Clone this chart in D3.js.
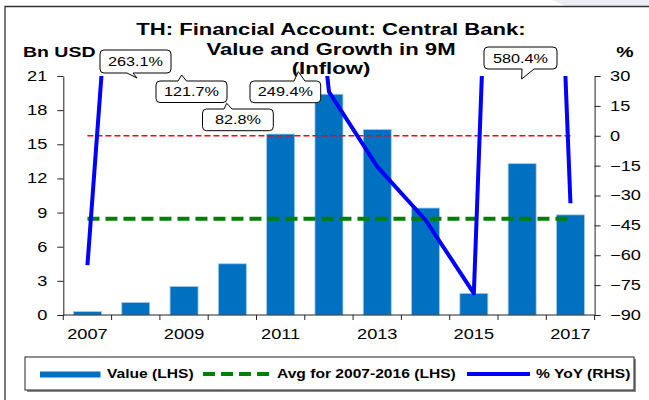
<!DOCTYPE html>
<html>
<head>
<meta charset="utf-8">
<script src="https://cdn.jsdelivr.net/npm/d3@7"></script>
<style>
  body { margin: 0; background: #fff; }
  svg text { font-family: "Liberation Sans", Arial, sans-serif; }
</style>
</head>
<body>
<div id="chart"></div>
<script>
// data
var years = [2007, 2008, 2009, 2010, 2011, 2012, 2013, 2014, 2015, 2016, 2017];
var values = [0.3, 1.1, 2.5, 4.5, 15.9, 19.4, 16.3, 9.4, 1.9, 13.3, 8.8];
var yoy = [-65, 263.1, 121.7, 82.8, 249.4, 22.1, -15.5, -42.3, -79.1, 580.4, -33.9];
var avgValue = 8.46;
var leftTicks = [0, 3, 6, 9, 12, 15, 18, 21];
var rightTicks = [-90, -75, -60, -45, -30, -15, 0, 15, 30];
var yearLabels = [2007, 2009, 2011, 2013, 2015, 2017];

var W = 649, H = 400;
var sx = 1.3; // picture is stretched horizontally
var chart = {
    left: 63.3, right: 594.6, top: 76, bottom: 315
};

var svg = d3.select("#chart").append("svg")
    .attr("width", W)
    .attr("height", H);

// frame
svg.append("path")
    .attr("d", "M552,0 L649,0 L649,6 L566,6 Z")
    .attr("fill", "#eceef5");
svg.append("path")
    .attr("d", "M5,400 L5,6.5 L649,6.5")
    .attr("fill", "none")
    .attr("stroke", "#333")
    .attr("stroke-width", 1.3);

var xScale = d3.scaleBand()
    .domain(years)
    .range([chart.left, chart.right])
    .paddingInner(0.42)
    .paddingOuter(0.21);

var yLeft = d3.scaleLinear().domain([0, 21]).range([chart.bottom, chart.top]);
var yRight = d3.scaleLinear().domain([-90, 30]).range([chart.bottom, chart.top]);

function cx(yr) { return xScale(yr) + xScale.bandwidth() / 2; }

function addText(g, x, y, str, size, weight, anchor) {
    return g.append("text")
        .attr("transform", "translate(" + x + "," + y + ") scale(" + sx + ",1)")
        .attr("text-anchor", anchor || "start")
        .attr("font-size", size)
        .attr("font-weight", weight || "normal")
        .attr("fill", "#000")
        .text(str);
}

// title
addText(svg, 331, 35, "TH: Financial Account: Central Bank:", 17, "bold", "middle");
addText(svg, 331, 55, "Value and Growth in 9M", 17, "bold", "middle");
addText(svg, 331, 74, "(Inflow)", 17, "bold", "middle");
addText(svg, 23, 57, "Bn USD", 15, "bold");
addText(svg, 625, 57, "%", 15, "bold", "middle");

// bars
svg.selectAll("rect.bar")
    .data(years)
    .enter().append("rect")
    .attr("class", "bar")
    .attr("x", function (d) { return xScale(d); })
    .attr("width", xScale.bandwidth())
    .attr("y", function (d, i) { return yLeft(values[i]); })
    .attr("height", function (d, i) { return chart.bottom - yLeft(values[i]); })
    .attr("fill", "#0070C0")
    .attr("stroke", "#a9cbe8")
    .attr("stroke-width", 0.8);

// zero line of RHS
svg.append("line")
    .attr("x1", cx(years[0])).attr("x2", cx(years[years.length - 1]))
    .attr("y1", yRight(0)).attr("y2", yRight(0))
    .attr("stroke", "#ff0000")
    .attr("stroke-width", 1.5)
    .attr("stroke-dasharray", "6,3");

// average line
svg.append("line")
    .attr("x1", cx(years[0])).attr("x2", cx(years[years.length - 1]))
    .attr("y1", yLeft(avgValue)).attr("y2", yLeft(avgValue))
    .attr("stroke", "#008000")
    .attr("stroke-width", 4)
    .attr("stroke-dasharray", "12,6");

// yoy line, clipped to plot
svg.append("clipPath").attr("id", "plotclip")
    .append("rect")
    .attr("x", 0).attr("y", chart.top)
    .attr("width", W).attr("height", chart.bottom - chart.top + 10);

var line = d3.line()
    .x(function (d, i) { return cx(years[i]); })
    .y(function (d) { return yRight(d); });

svg.append("path")
    .datum(yoy)
    .attr("clip-path", "url(#plotclip)")
    .attr("d", line)
    .attr("fill", "none")
    .attr("stroke", "#0000ff")
    .attr("stroke-width", 4)
    .attr("stroke-linejoin", "round");

// axes
var leftAxis = svg.append("g")
    .attr("transform", "translate(" + chart.left + ",0)")
    .call(d3.axisLeft(yLeft).tickValues(leftTicks).tickSize(6).tickPadding(10).tickSizeOuter(0));

var rightAxis = svg.append("g")
    .attr("transform", "translate(" + chart.right + ",0)")
    .call(d3.axisRight(yRight).tickValues(rightTicks).tickSize(6).tickPadding(9.5).tickSizeOuter(0));

[leftAxis, rightAxis].forEach(function (ax) {
    ax.select(".domain").attr("stroke", "#222");
    ax.selectAll(".tick line").attr("stroke", "#222");
    ax.selectAll("text")
        .attr("font-size", 14)
        .attr("font-family", "'Liberation Sans', Arial, sans-serif")
        .attr("fill", "#000")
        .attr("x", function () { return +this.getAttribute("x") / sx; })
        .attr("transform", "scale(" + sx + ",1)");
});

// x axis: ticks at band boundaries, labels every other year
var xAxis = svg.append("g");
xAxis.append("line")
    .attr("x1", chart.left).attr("x2", chart.right)
    .attr("y1", chart.bottom).attr("y2", chart.bottom)
    .attr("stroke", "#222");
xAxis.selectAll("line.tk")
    .data(years.concat(["end"]))
    .enter().append("line")
    .attr("class", "tk")
    .attr("x1", function (d, i) { return chart.left + i * xScale.step(); })
    .attr("x2", function (d, i) { return chart.left + i * xScale.step(); })
    .attr("y1", chart.bottom).attr("y2", chart.bottom + 5)
    .attr("stroke", "#222");
yearLabels.forEach(function (yr) {
    addText(xAxis, cx(yr), 339, yr, 14, "normal", "middle");
});

// callouts
function callout(label, box, ptr) {
    var x0 = box[0], x1 = box[1], y0 = box[2], y1 = box[3], r = 4;
    var p;
    if (ptr.side === "bottom") {
        p = "M" + (x0 + r) + "," + y0 + " H" + (x1 - r) + " Q" + x1 + "," + y0 + " " + x1 + "," + (y0 + r) +
            " V" + (y1 - r) + " Q" + x1 + "," + y1 + " " + (x1 - r) + "," + y1 +
            " H" + ptr.b2 + " L" + ptr.tx + "," + ptr.ty + " L" + ptr.b1 + "," + y1 +
            " H" + (x0 + r) + " Q" + x0 + "," + y1 + " " + x0 + "," + (y1 - r) +
            " V" + (y0 + r) + " Q" + x0 + "," + y0 + " " + (x0 + r) + "," + y0 + " Z";
    } else {
        p = "M" + (x0 + r) + "," + y0 + " H" + ptr.b1 + " L" + ptr.tx + "," + ptr.ty + " L" + ptr.b2 + "," + y0 +
            " H" + (x1 - r) + " Q" + x1 + "," + y0 + " " + x1 + "," + (y0 + r) +
            " V" + (y1 - r) + " Q" + x1 + "," + y1 + " " + (x1 - r) + "," + y1 +
            " H" + (x0 + r) + " Q" + x0 + "," + y1 + " " + x0 + "," + (y1 - r) +
            " V" + (y0 + r) + " Q" + x0 + "," + y0 + " " + (x0 + r) + "," + y0 + " Z";
    }
    svg.append("path")
        .attr("d", p)
        .attr("fill", "#fff")
        .attr("stroke", "#000")
        .attr("stroke-width", 1);
    addText(svg, (x0 + x1) / 2, (y0 + y1) / 2 + 4.5, label, 12.5, "normal", "middle");
}

function pct(v) { return v.toFixed(1) + "%"; }

callout(pct(yoy[1]), [100, 171, 50, 73], { side: "bottom", b1: 127, b2: 133, tx: 137, ty: 78 });
callout(pct(yoy[2]), [156, 227, 81, 102.5], { side: "top", b1: 178, b2: 186.5, tx: 181.7, ty: 75 });
callout(pct(yoy[3]), [202.5, 273.3, 109, 130.7], { side: "top", b1: 224, b2: 232, tx: 226.7, ty: 103.3 });
callout(pct(yoy[4]), [250, 320.7, 81, 102.7], { side: "top", b1: 294, b2: 305, tx: 298.3, ty: 71.7 });
callout(pct(yoy[9]), [484, 557, 47, 69], { side: "bottom", b1: 522, b2: 534, tx: 521.7, ty: 79 });

// legend
var lg = svg.append("g");
lg.append("rect")
    .attr("x", 27).attr("y", 359)
    .attr("width", 609).attr("height", 33)
    .attr("fill", "#888");
lg.append("rect")
    .attr("x", 25).attr("y", 357)
    .attr("width", 609).attr("height", 33)
    .attr("fill", "#fff")
    .attr("stroke", "#222")
    .attr("stroke-width", 1);
lg.append("rect")
    .attr("x", 40).attr("y", 371.5)
    .attr("width", 60.5).attr("height", 6)
    .attr("fill", "#0070C0");
addText(lg, 107, 378, "Value (LHS)", 12, "bold");
lg.append("line")
    .attr("x1", 203).attr("x2", 272)
    .attr("y1", 374).attr("y2", 374)
    .attr("stroke", "#008000")
    .attr("stroke-width", 4)
    .attr("stroke-dasharray", "12,6");
addText(lg, 277, 378, "Avg for 2007-2016 (LHS)", 12, "bold");
lg.append("line")
    .attr("x1", 467).attr("x2", 530)
    .attr("y1", 374).attr("y2", 374)
    .attr("stroke", "#0000ff")
    .attr("stroke-width", 4);
addText(lg, 536, 378, "% YoY (RHS)", 12, "bold");
</script>
</body>
</html>
